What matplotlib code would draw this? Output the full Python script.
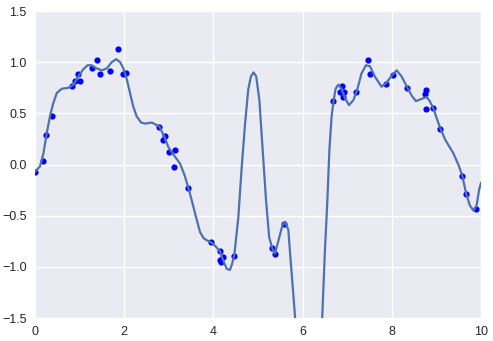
import numpy as np
import matplotlib.pyplot as plt

# sample points
pts_x = [0.00, 0.17, 0.25, 0.39, 0.84, 0.90, 0.97, 1.02, 1.28, 1.40, 1.46, 1.69, 1.85, 1.97, 2.04,
         2.79, 2.92, 2.88, 3.14, 3.01, 3.12, 3.44, 3.95, 4.15, 4.21, 4.15, 4.18, 4.47,
         5.32, 5.39, 5.58,
         6.69, 6.88, 6.84, 6.92, 6.91, 7.20, 7.47, 7.50, 7.88, 8.02, 8.35,
         8.76, 8.74, 8.77, 8.93, 9.09, 9.58, 9.67, 9.89]
pts_y = [-0.07, 0.03, 0.29, 0.47, 0.77, 0.82, 0.88, 0.82, 0.94, 1.02, 0.88, 0.91, 1.13, 0.88, 0.89,
         0.37, 0.28, 0.24, 0.14, 0.12, -0.02, -0.23, -0.76, -0.85, -0.90, -0.93, -0.95, -0.89,
         -0.82, -0.87, -0.58,
         0.62, 0.77, 0.71, 0.71, 0.66, 0.71, 1.02, 0.88, 0.79, 0.87, 0.75,
         0.73, 0.69, 0.54, 0.55, 0.35, -0.11, -0.29, -0.43]

# fitted curve
fit_x = [0.00, 0.11, 0.19, 0.26, 0.34, 0.41, 0.49, 0.60, 0.75, 0.86, 0.97, 1.08, 1.18, 1.27, 1.38,
         1.50, 1.61, 1.72, 1.82, 1.91, 1.98, 2.06, 2.13, 2.20, 2.28, 2.38, 2.47, 2.62, 2.79, 2.90,
         2.99, 3.10, 3.25, 3.35, 3.44, 3.52, 3.59, 3.70, 3.78, 3.85, 3.95, 4.05, 4.15, 4.22, 4.30,
         4.37, 4.42, 4.47, 4.56, 4.63, 4.71, 4.78, 4.84, 4.90, 4.96, 5.03, 5.10, 5.18, 5.25, 5.32,
         5.38, 5.46, 5.55, 5.61, 5.68, 5.73, 5.79, 5.83, 5.95, 6.13, 6.33, 6.44, 6.50, 6.55, 6.60,
         6.65, 6.69, 6.74, 6.80, 6.87, 6.95, 7.04, 7.14, 7.23, 7.32, 7.42, 7.51, 7.62, 7.77, 7.88,
         8.00, 8.11, 8.22, 8.35, 8.45, 8.54, 8.66, 8.78, 8.85, 8.93, 9.00, 9.09, 9.20, 9.38, 9.50,
         9.58, 9.67, 9.75, 9.83, 9.90, 9.96, 10.0]
fit_y = [-0.07, -0.02, 0.11, 0.30, 0.48, 0.60, 0.70, 0.74, 0.75, 0.78, 0.86, 0.93, 0.97, 0.97, 0.94,
         0.92, 0.94, 1.00, 1.03, 1.00, 0.94, 0.83, 0.70, 0.57, 0.47, 0.41, 0.40, 0.41, 0.37, 0.27,
         0.17, 0.10, 0.01, -0.10, -0.23, -0.36, -0.48, -0.66, -0.72, -0.74, -0.76, -0.80, -0.85, -0.94, -1.02,
         -1.03, -0.97, -0.88, -0.51, -0.05, 0.40, 0.73, 0.86, 0.90, 0.86, 0.63, 0.17, -0.35, -0.71, -0.82,
         -0.87, -0.74, -0.59, -0.56, -0.64, -0.93, -1.26, -1.49, -2.3, -3.2, -2.4, -1.49, -0.84, -0.40, 0.14,
         0.47, 0.61, 0.74, 0.78, 0.74, 0.65, 0.58, 0.63, 0.74, 0.89, 0.97, 0.96, 0.86, 0.76, 0.80,
         0.87, 0.92, 0.86, 0.75, 0.67, 0.62, 0.64, 0.66, 0.62, 0.55, 0.46, 0.35, 0.24, 0.11, -0.01,
         -0.11, -0.29, -0.40, -0.45, -0.40, -0.24, -0.18]

plt.rcParams['font.family'] = ['Liberation Sans', 'DejaVu Sans']

fig = plt.figure(figsize=(4.93, 3.41), dpi=100)
ax = fig.add_axes([0.071, 0.0674, 0.9047, 0.9003])
ax.set_facecolor('#EAEAF2')
ax.grid(True, color='white', linewidth=1.0)
ax.set_axisbelow(True)
for s in ax.spines.values():
    s.set_visible(False)

ax.scatter(pts_x, pts_y, s=20, color='#0000ff', linewidths=0, zorder=2)
ax.plot(fit_x, fit_y, color='#4C72B0', linewidth=1.6, zorder=3)

ax.set_xlim(0, 10)
ax.set_ylim(-1.5, 1.5)
ax.set_xticks([0, 2, 4, 6, 8, 10])
ax.set_yticks([-1.5, -1.0, -0.5, 0.0, 0.5, 1.0, 1.5])
ax.set_yticklabels(['\u22121.5', '\u22121.0', '\u22120.5', '0.0', '0.5', '1.0', '1.5'])
ax.tick_params(length=0, labelsize=9, labelcolor='#262626', pad=6)

fig.savefig('out.png', dpi=100)
